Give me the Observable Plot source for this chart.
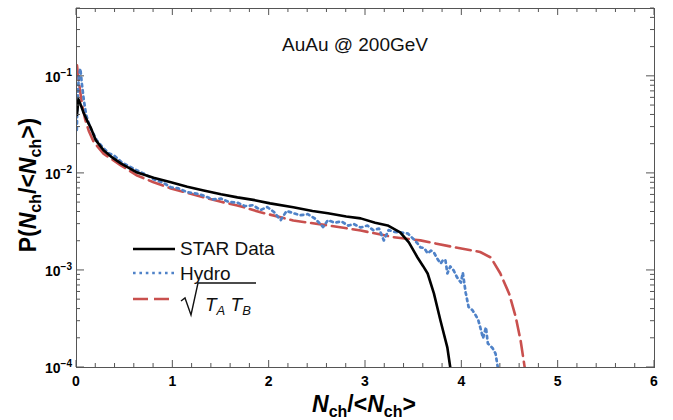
<!DOCTYPE html>
<html><head><meta charset="utf-8">
<script src="https://cdn.jsdelivr.net/npm/d3@7"></script>
<script src="https://cdn.jsdelivr.net/npm/@observablehq/plot@0.6"></script>
<style>
body{margin:0;background:#fff;}
svg{font-family:"Liberation Sans",Arial,sans-serif;}
</style>
</head><body><div id="chart"></div>
<script>
// ---- data ----
const title = "AuAu @ 200GeV";
const seriesNames = ["STAR Data", "Hydro", "sqrt(TA TB)"];
const xTickValues = [0, 1, 2, 3, 4, 5, 6];
const yTickValues = [1e-4, 1e-3, 1e-2, 1e-1];
const yTickExponents = ["−4", "−3", "−2", "−1"];

const starX = [0.005,0.02,0.04,0.07,0.11,0.145,0.2,0.28,0.37,0.46,0.63,0.8,0.98,1.15,1.32,1.5,1.67,1.85,2.01,2.25,2.45,2.61,2.8,2.95,3.1,3.23,3.36,3.45,3.54,3.6,3.645,3.71,3.78,3.85,3.88,3.9];
const starY = [0.040,0.058,0.052,0.043,0.035,0.030,0.022,0.0173,0.0146,0.0127,0.0102,0.0090,0.0081,0.0073,0.00668,0.0061,0.00566,0.0053,0.00491,0.00447,0.0041,0.00388,0.0036,0.00344,0.0031,0.00291,0.00247,0.00195,0.00136,0.0011,0.00093,0.00058,0.00030,0.00016,0.0001,0.00008];

const hydroX = [0.003,0.008,0.015,0.025,0.04,0.055,0.075,0.1,0.14,0.21,0.28,0.34,0.39,0.47,0.55,0.63,0.72,0.8,0.9,0.98,1.06,1.15,1.24,1.32,1.41,1.5,1.58,1.67,1.75,1.83,1.91,1.98,2.05,2.12,2.18,2.25,2.32,2.40,2.48,2.56,2.61,2.68,2.75,2.82,2.88,2.95,3.02,3.08,3.14,3.19,3.24,3.30,3.36,3.44,3.50,3.54,3.57,3.61,3.645,3.68,3.71,3.75,3.78,3.81,3.83,3.85,3.88,3.915,3.95,3.99,4.01,4.04,4.07,4.11,4.14,4.17,4.20,4.22,4.25,4.27,4.32,4.35,4.37,4.39];
const hydroY = [0.028,0.045,0.07,0.10,0.12,0.085,0.058,0.040,0.030,0.0219,0.0182,0.0160,0.0153,0.0130,0.0118,0.0107,0.0097,0.0087,0.0080,0.0072,0.0070,0.0064,0.0062,0.0059,0.0054,0.0055,0.0051,0.0050,0.0046,0.0047,0.0042,0.0045,0.0040,0.0033,0.0041,0.0039,0.0037,0.0038,0.0034,0.0028,0.0033,0.0031,0.0032,0.0029,0.0030,0.00277,0.0029,0.0026,0.0027,0.00204,0.0026,0.0025,0.00247,0.0024,0.0021,0.0019,0.00173,0.0017,0.0015,0.0016,0.00153,0.0013,0.00118,0.0013,0.00127,0.00093,0.0011,0.0010,0.00085,0.00075,0.00095,0.00059,0.00042,0.00039,0.00035,0.00031,0.00024,0.00020,0.00026,0.000177,0.000158,0.000139,0.000105,0.00008];

const glauberX = [0.005,0.02,0.04,0.06,0.09,0.13,0.18,0.28,0.46,0.63,0.8,0.98,1.15,1.32,1.5,1.67,1.91,2.25,2.61,2.95,3.29,3.57,3.915,4.19,4.30,4.40,4.49,4.56,4.61,4.65,4.67];
const glauberY = [0.13,0.095,0.068,0.05,0.036,0.027,0.021,0.016,0.0121,0.0095,0.0081,0.0070,0.0063,0.00566,0.0051,0.00468,0.00398,0.00327,0.00291,0.00258,0.0022,0.00204,0.00174,0.00155,0.00136,0.00093,0.00058,0.00033,0.00019,0.000104,0.00008];

const star = starX.map((x, i) => ({x, y: starY[i]}));
const hydro = hydroX.map((x, i) => ({x, y: hydroY[i]}));
const glauber = glauberX.map((x, i) => ({x, y: glauberY[i]}));

const colBlack = "#000000", colBlue = "#4f82c8", colRed = "#c9504e";
const dotDash = "2.6,3.8", longDash = "15,6";

const plot = Plot.plot({
  width: 673, height: 420,
  marginLeft: 76, marginRight: 19, marginTop: 8, marginBottom: 53,
  x: {domain: [0, 6], axis: null},
  y: {type: "log", domain: [1e-4, 0.5], axis: null},
  marks: [
    Plot.line(glauber, {x: "x", y: "y", stroke: colRed, strokeWidth: 2.6, strokeDasharray: longDash, clip: true}),
    Plot.line(hydro, {x: "x", y: "y", stroke: colBlue, strokeWidth: 2.7, strokeDasharray: dotDash, clip: true}),
    Plot.line(star, {x: "x", y: "y", stroke: colBlack, strokeWidth: 2.6, clip: true}),
    Plot.frame({stroke: "#555", strokeWidth: 1})
  ]
});
document.getElementById("chart").appendChild(plot);

const svg = d3.select(plot);
const xs = plot.scale("x"), ys = plot.scale("y");
const X0 = xs.apply(0), X1 = xs.apply(6), Y0 = ys.apply(1e-4), Y1 = ys.apply(0.5);
const g = svg.append("g").attr("stroke", "#555").attr("stroke-width", 1);

// x ticks (inward on bottom and top)
const xMinor = d3.range(0, 6.001, 0.2).filter(v => Math.abs(v - Math.round(v)) > 1e-6);
xTickValues.forEach(v => {
  const px = xs.apply(v);
  g.append("line").attr("x1", px).attr("x2", px).attr("y1", Y0).attr("y2", Y0 - 7);
  g.append("line").attr("x1", px).attr("x2", px).attr("y1", Y1).attr("y2", Y1 + 7);
});
xMinor.forEach(v => {
  const px = xs.apply(v);
  g.append("line").attr("x1", px).attr("x2", px).attr("y1", Y0).attr("y2", Y0 - 4);
  g.append("line").attr("x1", px).attr("x2", px).attr("y1", Y1).attr("y2", Y1 + 4);
});
// y ticks (inward on left and right)
const yMinor = [];
[1e-4, 1e-3, 1e-2, 1e-1].forEach(d => { for (let k = 2; k <= 9; k++) { const v = d * k; if (v <= 0.5) yMinor.push(v); } });
yTickValues.forEach(v => {
  const py = ys.apply(v);
  g.append("line").attr("x1", X0).attr("x2", X0 + 8).attr("y1", py).attr("y2", py);
  g.append("line").attr("x1", X1).attr("x2", X1 - 8).attr("y1", py).attr("y2", py);
});
yMinor.forEach(v => {
  const py = ys.apply(v);
  g.append("line").attr("x1", X0).attr("x2", X0 + 4).attr("y1", py).attr("y2", py);
  g.append("line").attr("x1", X1).attr("x2", X1 - 4).attr("y1", py).attr("y2", py);
});

// tick labels
const lab = svg.append("g").attr("font-weight", "bold").attr("fill", "#000");
xTickValues.forEach(v => {
  lab.append("text").attr("x", xs.apply(v)).attr("y", Y0 + 19).attr("text-anchor", "middle")
    .attr("font-size", 14).text(v);
});
yTickValues.forEach((v, i) => {
  const t = lab.append("text").attr("x", X0 - 4).attr("y", ys.apply(v) + 6).attr("text-anchor", "end").attr("font-size", 14);
  t.append("tspan").text("10");
  t.append("tspan").attr("font-size", 10).attr("dy", -6).text(yTickExponents[i]);
});

// title
svg.append("text").attr("x", 355).attr("y", 51).attr("text-anchor", "middle")
  .attr("font-size", 19).attr("fill", "#111").text(title);

// axis titles
const xt = svg.append("text").attr("x", 364).attr("y", 412).attr("text-anchor", "middle")
  .attr("font-size", 23).attr("font-weight", "bold").attr("fill", "#000");
xt.append("tspan").attr("font-style", "italic").text("N");
xt.append("tspan").attr("font-size", 16).attr("dy", 5).text("ch");
xt.append("tspan").attr("dy", -5).text("/<");
xt.append("tspan").attr("font-style", "italic").text("N");
xt.append("tspan").attr("font-size", 16).attr("dy", 5).text("ch");
xt.append("tspan").attr("dy", -5).text(">");

const yt = svg.append("text").attr("transform", "translate(36,185) rotate(-90)").attr("text-anchor", "middle")
  .attr("font-size", 23).attr("font-weight", "bold").attr("fill", "#000");
yt.append("tspan").text("P(");
yt.append("tspan").attr("font-style", "italic").text("N");
yt.append("tspan").attr("font-size", 16).attr("dy", 5).text("ch");
yt.append("tspan").attr("dy", -5).text("/<");
yt.append("tspan").attr("font-style", "italic").text("N");
yt.append("tspan").attr("font-size", 16).attr("dy", 5).text("ch");
yt.append("tspan").attr("dy", -5).text(">)");

// legend
const lg = svg.append("g").attr("text-anchor", "start");
const legendRows = [
  {y: 249, stroke: colBlack, dash: null},
  {y: 273, stroke: colBlue, dash: dotDash},
  {y: 299, stroke: colRed, dash: longDash}
];
legendRows.forEach(r => {
  const l = lg.append("line").attr("x1", 133).attr("x2", 175).attr("y1", r.y).attr("y2", r.y)
    .attr("stroke", r.stroke).attr("stroke-width", 2.6);
  if (r.dash) l.attr("stroke-dasharray", r.dash);
});
lg.append("text").attr("x", 180).attr("y", 255).attr("text-anchor", "start").attr("font-size", 19).attr("fill", "#111").text(seriesNames[0]);
lg.append("text").attr("x", 180).attr("y", 280).attr("text-anchor", "start").attr("font-size", 19).attr("fill", "#111").text(seriesNames[1]);
lg.append("path").attr("d", "M181,301 L185,298 L191,315 L198,283 L256,283")
  .attr("fill", "none").attr("stroke", "#111").attr("stroke-width", 1.4);
const st = lg.append("text").attr("x", 205).attr("y", 311).attr("text-anchor", "start").attr("font-size", 19).attr("fill", "#111").attr("font-style", "italic");
st.append("tspan").text("T");
st.append("tspan").attr("font-size", 13).attr("dy", 4).text("A");
st.append("tspan").attr("dy", -4).text(" T");
st.append("tspan").attr("font-size", 13).attr("dy", 4).text("B");
</script>
</body></html>
